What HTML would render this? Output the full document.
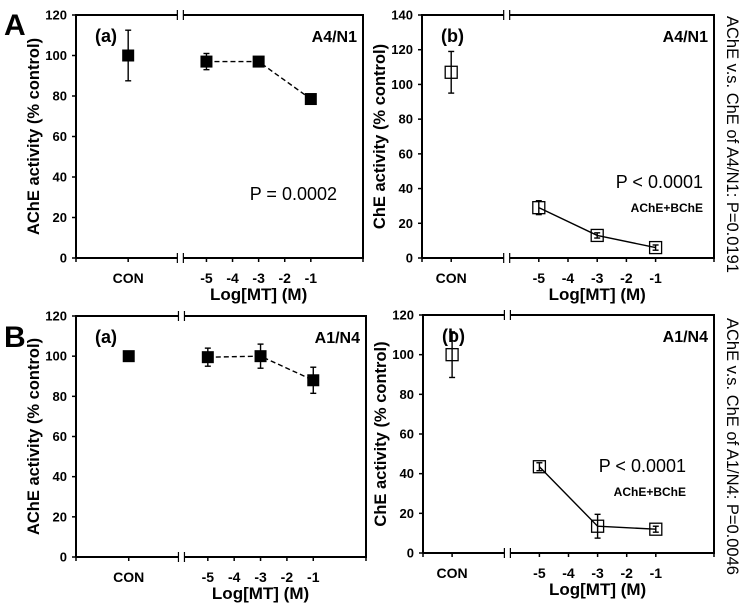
<!DOCTYPE html>
<html><head><meta charset="utf-8"><style>
body{margin:0;background:#fff;}
svg{display:block;font-family:"Liberation Sans",Arial,sans-serif;}
</style></head><body>
<svg id="fig" width="746" height="603" viewBox="0 0 746 603" xmlns="http://www.w3.org/2000/svg">
<text x="4" y="35" font-size="30" font-weight="bold">A</text>
<text x="4" y="347" font-size="30" font-weight="bold">B</text>
<text transform="translate(727,16) rotate(90)" font-size="16.5">AChE v.s. ChE of A4/N1: P=0.0191</text>
<text transform="translate(727,318) rotate(90)" font-size="16.5">AChE v.s. ChE of A1/N4: P=0.0046</text>
</svg>
<script>
// Data arrays
const doses = [-5, -3, -1];
const aa_con = 100, aa_conErr = 12.5;
const aa_vals = [97, 97, 78.5];
const aa_errs = [4, 0, 0];
const ab_con = 107, ab_conErr = 12;
const ab_vals = [29, 13, 6];
const ab_errs = [4, 1.5, 1.5];
const ba_con = 100, ba_conErr = 0;
const ba_vals = [99.5, 100, 88];
const ba_errs = [4.5, 6, 6.5];
const bb_con = 100, bb_conErr = 11.5;
const bb_vals = [43.5, 13.5, 12];
const bb_errs = [2, 6, 1.5];
const yTicksA = [0, 20, 40, 60, 80, 100, 120];
const yTicksB = [0, 20, 40, 60, 80, 100, 120, 140];
const xTickLabels = ["-5", "-4", "-3", "-2", "-1"];
const xTickVals = [-5, -4, -3, -2, -1];

const svg = document.getElementById('fig');
const NS = 'http://www.w3.org/2000/svg';
function mk(tag, attrs, parent) {
  const e = document.createElementNS(NS, tag);
  for (const k in attrs) e.setAttribute(k, attrs[k]);
  (parent || svg).appendChild(e);
  return e;
}
function panel(o) {
  const g = mk('g', {});
  
  
  const xs = v => o.left + (v - o.xmin) * (o.right - o.left) / (1 - o.xmin);
  const ys = v => o.bottom - v * (o.bottom - o.top) / o.ymax;
  const brk = xs(o.brk);
  mk('path', {d: `M${o.left},${o.bottom} L${o.left},${o.top} L${brk-3},${o.top} M${brk+3},${o.top} L${o.right},${o.top} L${o.right},${o.bottom} L${brk+3},${o.bottom} M${brk-3},${o.bottom} L${o.left},${o.bottom}`, stroke: '#000', 'stroke-width': 2, fill: 'none'}, g);
  [brk-3, brk+3].forEach(bx => {
    mk('line', {x1: bx, y1: o.top-5, x2: bx, y2: o.top+5, stroke: '#000', 'stroke-width': 1.2}, g);
    mk('line', {x1: bx, y1: o.bottom-5, x2: bx, y2: o.bottom+5, stroke: '#000', 'stroke-width': 1.2}, g);
  });
  o.yticks.forEach(t => {
    const y = ys(t);
    mk('line', {x1: o.left-4, y1: y, x2: o.left, y2: y, stroke: '#000', 'stroke-width': 1.5}, g);
    const tx = mk('text', {x: o.left-9, y: y+4.5, 'text-anchor': 'end', 'font-size': 13, 'font-weight': 'bold'}, g);
    tx.textContent = t;
    
    
  });
  const xtk = [o.xmin, -8, ...xTickVals, 1];
  xtk.forEach(v => mk('line', {x1: xs(v), y1: o.bottom, x2: xs(v), y2: o.bottom+4, stroke: '#000', 'stroke-width': 1.5}, g));
  xTickVals.forEach((v, i) => {
    const tx = mk('text', {x: xs(v), y: o.bottom+25, 'text-anchor': 'middle', 'font-size': 14, 'font-weight': 'bold'}, g);
    tx.textContent = xTickLabels[i];
    
    
  });
  const con = mk('text', {x: xs(-8), y: o.bottom+25, 'text-anchor': 'middle', 'font-size': 14, 'font-weight': 'bold'}, g);
  con.textContent = 'CON';
  
  
  const xt = mk('text', {x: xs(-3), y: o.bottom+42, 'text-anchor': 'middle', 'font-size': 17, 'font-weight': 'bold'}, g);
  xt.textContent = 'Log[MT] (M)';
  
  
  const yt = mk('text', {transform: `translate(${o.left-37},${(o.top+o.bottom)/2}) rotate(-90)`, 'text-anchor': 'middle', 'font-size': 16.5, 'font-weight': 'bold'}, g);
  yt.textContent = o.ytitle;
  
  
  const sub = mk('text', {x: o.left+19, y: o.top+27, 'font-size': 18, 'font-weight': 'bold'}, g);
  sub.textContent = o.sub;
  
  
  const st = mk('text', {x: o.right-6, y: o.top+27, 'text-anchor': 'end', 'font-size': 16, 'font-weight': 'bold'}, g);
  st.textContent = o.strain;
  
  
  const pv = mk('text', {x: o.px, y: o.py, 'text-anchor': 'end', 'font-size': 18}, g);
  pv.textContent = o.ptext;
  
  
  if (o.note) {
    const nt = mk('text', {x: o.px, y: o.py+24, 'text-anchor': 'end', 'font-size': 12, 'font-weight': 'bold'}, g);
    nt.textContent = o.note;
    
    
  }
  const pts = doses.map((d, i) => `${xs(d)},${ys(o.vals[i])}`).join(' ');
  const ln = mk('polyline', {points: pts, fill: 'none', stroke: '#000', 'stroke-width': 1.4, 'stroke-dasharray': o.dashed ? '5,3' : 'none'}, g);
  
  
  function point(x, v, e, nm) {
    const y = ys(v);
    if (e > 0) {
      const eh = e * (o.bottom - o.top) / o.ymax;
      mk('line', {x1: x, y1: y-eh, x2: x, y2: y+eh, stroke: '#000', 'stroke-width': 1.4}, g);
      mk('line', {x1: x-3, y1: y-eh, x2: x+3, y2: y-eh, stroke: '#000', 'stroke-width': 1.4}, g);
      mk('line', {x1: x-3, y1: y+eh, x2: x+3, y2: y+eh, stroke: '#000', 'stroke-width': 1.4}, g);
    }
    const r = mk('rect', {x: x-6, y: y-6, width: 12, height: 12, fill: o.filled ? '#000' : '#fff', stroke: '#000', 'stroke-width': o.filled ? 0 : 1.3, 'fill-opacity': o.filled ? 1 : 0}, g);
    
    
  }
  point(xs(-8), o.con, o.conErr, 'point-con');
  doses.forEach((d, i) => point(xs(d), o.vals[i], o.errs[i], 'point-dose'));
}
panel({name:'panel-A-a', left:76, right:363, top:15, bottom:258, xmin:-10, brk:-6, ymax:120, yticks:yTicksA, ytitle:'AChE activity (% control)', sub:'(a)', strain:'A4/N1', ptext:'P = 0.0002', px:337, py:200, con:aa_con, conErr:aa_conErr, vals:aa_vals, errs:aa_errs, dashed:true, filled:true});
panel({name:'panel-A-b', left:422, right:714, top:15, bottom:258, xmin:-9, brk:-6.1, ymax:140, yticks:yTicksB, ytitle:'ChE activity (% control)', sub:'(b)', strain:'A4/N1', ptext:'P < 0.0001', px:703, py:188, note:'AChE+BChE', con:ab_con, conErr:ab_conErr, vals:ab_vals, errs:ab_errs, dashed:false, filled:false});
panel({name:'panel-B-a', left:76, right:366, top:316, bottom:557, xmin:-10, brk:-6, ymax:120, yticks:yTicksA, ytitle:'AChE activity (% control)', sub:'(a)', strain:'A1/N4', ptext:'', px:337, py:500, con:ba_con, conErr:ba_conErr, vals:ba_vals, errs:ba_errs, dashed:true, filled:true});
panel({name:'panel-B-b', left:423, right:714, top:315, bottom:553, xmin:-9, brk:-6.1, ymax:120, yticks:yTicksA, ytitle:'ChE activity (% control)', sub:'(b)', strain:'A1/N4', ptext:'P < 0.0001', px:686, py:472, note:'AChE+BChE', con:bb_con, conErr:bb_conErr, vals:bb_vals, errs:bb_errs, dashed:false, filled:false});
</script>
</body></html>
